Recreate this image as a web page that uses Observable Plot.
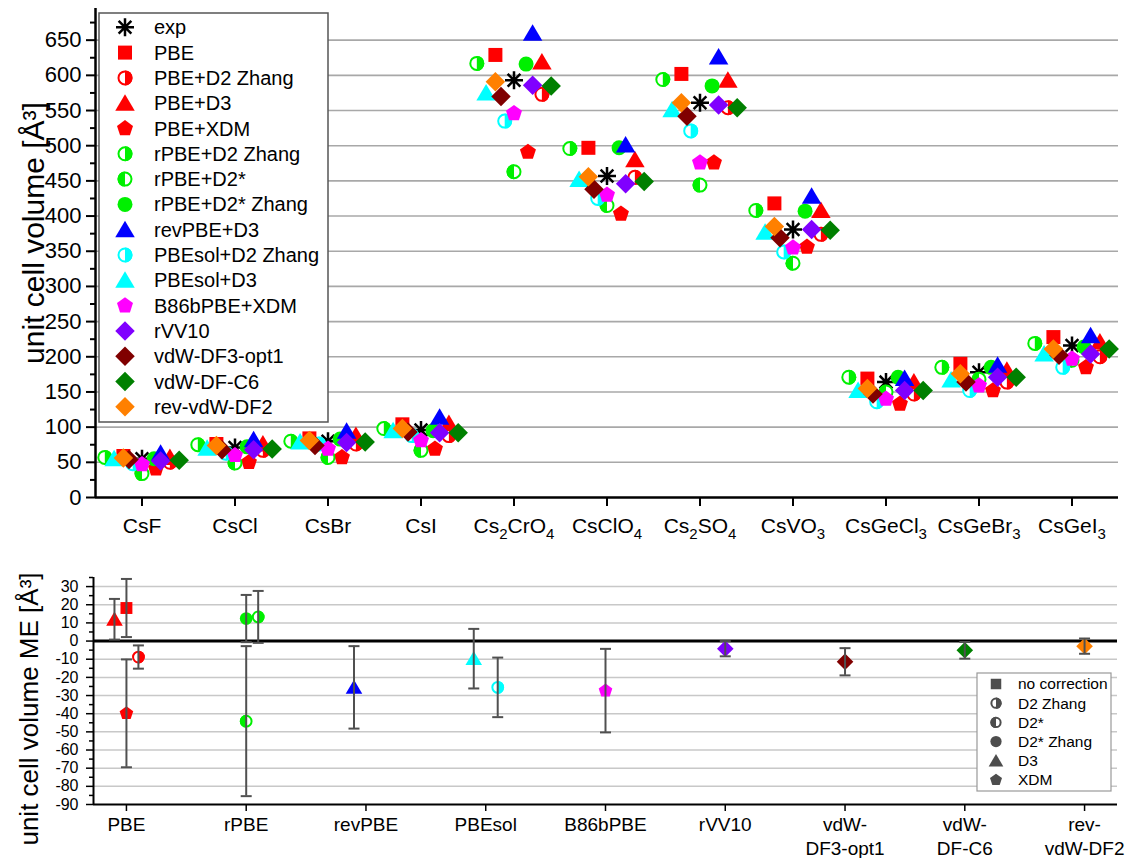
<!DOCTYPE html>
<html>
<head>
<meta charset="utf-8">
<script src="https://cdn.jsdelivr.net/npm/d3@7"></script>
<script src="https://cdn.jsdelivr.net/npm/@observablehq/plot@0.6"></script>
<style>
  body { margin: 0; background: #fff; }
  #chart { position: relative; width: 1127px; height: 858px; font-family: "Liberation Sans", Arial, sans-serif; }
  #chart svg { display: block; overflow: visible; }
</style>
</head>
<body>
<div id="chart"></div>
<script>
// ---------- Unit cell volumes (Å³) per compound ----------
const compounds = ["CsF", "CsCl", "CsBr", "CsI", "Cs2CrO4", "CsClO4", "Cs2SO4", "CsVO3", "CsGeCl3", "CsGeBr3", "CsGeI3"];

const volExp          = [55, 71, 80, 96, 593, 457, 561, 381, 164, 178, 216];
const volPBE          = [59, 76, 84, 104, 629, 497, 602, 418, 169, 190, 228];
const volPBE_D2Zhang  = [50, 67, 76, 88, 573, 455, 554, 374, 147, 164, 200];
const volPBE_D3       = [57, 76, 88, 105, 619, 480, 593, 408, 164, 181, 221];
const volPBE_XDM      = [41, 50, 57, 69, 491, 403, 476, 356, 133, 152, 185];
const volRPBE_D2Zhang = [57, 75, 80, 98, 617, 496, 594, 408, 171, 185, 219];
const volRPBE_D2s     = [34, 49, 57, 67, 463, 415, 444, 333, 150, 168, 195];
const volRPBE_D2sZhang= [55, 72, 83, 95, 616, 497, 585, 407, 171, 185, 214];
const volRevPBE_D3    = [63, 82, 94, 114, 660, 501, 626, 428, 169, 188, 230];
const volPBEsol_D2Zhang = [48, 63, 76, 88, 535, 425, 521, 349, 136, 152, 185];
const volPBEsol_D3    = [55, 70, 79, 95, 575, 452, 551, 377, 152, 167, 204];
const volB86b_XDM     = [47, 60, 69, 81, 546, 430, 476, 355, 140, 159, 197];
const volRVV10        = [52, 68, 78, 92, 586, 446, 558, 381, 152, 171, 204];
const volDF3opt1      = [54, 68, 74, 93, 570, 438, 542, 369, 147, 164, 202];
const volDFC6         = [53, 69, 79, 92, 585, 449, 554, 380, 152, 171, 211];
const volRevDF2       = [56, 74, 81, 98, 591, 456, 561, 385, 155, 176, 211];

const seriesNames = ["exp", "PBE", "PBE+D2 Zhang", "PBE+D3", "PBE+XDM", "rPBE+D2 Zhang", "rPBE+D2*",
  "rPBE+D2* Zhang", "revPBE+D3", "PBEsol+D2 Zhang", "PBEsol+D3", "B86bPBE+XDM", "rVV10",
  "vdW-DF3-opt1", "vdW-DF-C6", "rev-vdW-DF2"];
const seriesValues = [volExp, volPBE, volPBE_D2Zhang, volPBE_D3, volPBE_XDM, volRPBE_D2Zhang, volRPBE_D2s,
  volRPBE_D2sZhang, volRevPBE_D3, volPBEsol_D2Zhang, volPBEsol_D3, volB86b_XDM, volRVV10,
  volDF3opt1, volDFC6, volRevDF2];

// ---------- Mean error of the unit cell volume per method ----------
const meGroupLabels = ["PBE", "rPBE", "revPBE", "PBEsol", "B86bPBE", "rVV10", "vdW-\nDF3-opt1", "vdW-\nDF-C6", "rev-\nvdW-DF2"];
const meBase       = ["PBE", "PBE", "PBE", "PBE", "rPBE", "rPBE", "rPBE", "revPBE", "PBEsol", "PBEsol", "B86bPBE", "rVV10", "vdW-DF3-opt1", "vdW-DF-C6", "rev-vdW-DF2"];
const meCorrection = ["none", "D3", "D2 Zhang", "XDM", "D2* Zhang", "D2 Zhang", "D2*", "D3", "D3", "D2 Zhang", "XDM", "nonlocal", "nonlocal", "nonlocal", "nonlocal"];
const meValue      = [18.2, 12.0, -8.8, -39.8, 12.4, 13.3, -44.1, -25.5, -9.7, -25.5, -27.3, -4.2, -11.4, -5.1, -2.8];
const meSpread     = [16.0, 11.2, 6.4, 29.7, 13.0, 14.3, 41.3, 22.7, 16.4, 16.4, 23.0, 4.2, 7.5, 4.6, 4.2];

const correctionNames = ["no correction", "D2 Zhang", "D2*", "D2* Zhang", "D3", "XDM"];

// ---------- Marker shapes ----------
const TAU = Math.PI * 2;
const rOf = s => Math.sqrt(s / Math.PI);
const sym = {
  square:   {draw(c, s) { const r = rOf(s); c.rect(-r, -r, 2 * r, 2 * r); }},
  circle:   {draw(c, s) { const r = rOf(s); c.moveTo(r, 0); c.arc(0, 0, r, 0, TAU); }},
  triangle: {draw(c, s) { const r = rOf(s); c.moveTo(0, -1.2 * r); c.lineTo(1.3 * r, r); c.lineTo(-1.3 * r, r); c.closePath(); }},
  pentagon: {draw(c, s) { const r = rOf(s) * 1.12;
    for (let k = 0; k < 5; k++) { const a = -Math.PI / 2 + k * TAU / 5; const px = r * Math.cos(a), py = r * Math.sin(a); k ? c.lineTo(px, py) : c.moveTo(px, py); }
    c.closePath(); }},
  diamond:  {draw(c, s) { const r = rOf(s) * 1.3; c.moveTo(0, -r); c.lineTo(r, 0); c.lineTo(0, r); c.lineTo(-r, 0); c.closePath(); }},
  star:     {draw(c, s) { const r = rOf(s);
    for (let k = 0; k < 4; k++) { const a = k * Math.PI / 4; c.moveTo(r * Math.cos(a), r * Math.sin(a)); c.lineTo(-r * Math.cos(a), -r * Math.sin(a)); } }},
  halfLeft: {draw(c, s) { const r = rOf(s); c.moveTo(0, -r); c.arc(0, 0, r, -Math.PI / 2, Math.PI / 2, true); c.closePath(); }},
  halfRight:{draw(c, s) { const r = rOf(s); c.moveTo(0, -r); c.arc(0, 0, r, -Math.PI / 2, Math.PI / 2, false); c.closePath(); }},
  cap:      {draw(c, s) { const r = rOf(s); c.moveTo(-r, 0); c.lineTo(r, 0); }}
};

const RED = "#ff0000", GREEN = "#00f000", BLUE = "#0000ff", CYAN = "#00ffff", MAGENTA = "#ff00ff",
      PURPLE = "#8000ff", DARKRED = "#800000", DARKGREEN = "#008000", ORANGE = "#ff8000";

const seriesStyle = {
  "exp":             {color: "#000", kind: "star", off: 0},
  "PBE":             {color: RED, kind: "square", off: -0.2},
  "PBE+D2 Zhang":    {color: RED, kind: "halfRight", off: 0.3},
  "PBE+D3":          {color: RED, kind: "triangle", off: 0.3},
  "PBE+XDM":         {color: RED, kind: "pentagon", off: 0.15},
  "rPBE+D2 Zhang":   {color: GREEN, kind: "halfRight", off: -0.4},
  "rPBE+D2*":        {color: GREEN, kind: "halfLeft", off: 0},
  "rPBE+D2* Zhang":  {color: GREEN, kind: "circle", off: 0.13},
  "revPBE+D3":       {color: BLUE, kind: "triangle", off: 0.2},
  "PBEsol+D2 Zhang": {color: CYAN, kind: "halfRight", off: -0.1},
  "PBEsol+D3":       {color: CYAN, kind: "triangle", off: -0.3},
  "B86bPBE+XDM":     {color: MAGENTA, kind: "pentagon", off: 0},
  "rVV10":           {color: PURPLE, kind: "diamond", off: 0.2},
  "vdW-DF3-opt1":    {color: DARKRED, kind: "diamond", off: -0.14},
  "vdW-DF-C6":       {color: DARKGREEN, kind: "diamond", off: 0.4},
  "rev-vdW-DF2":     {color: ORANGE, kind: "diamond", off: -0.2}
};
const baseColor = {"PBE": RED, "rPBE": GREEN, "revPBE": BLUE, "PBEsol": CYAN, "B86bPBE": MAGENTA,
  "rVV10": PURPLE, "vdW-DF3-opt1": DARKRED, "vdW-DF-C6": DARKGREEN, "rev-vdW-DF2": ORANGE};
const correctionKind = {"none": "square", "no correction": "square", "D2 Zhang": "halfRight", "D2*": "halfLeft",
  "D2* Zhang": "circle", "D3": "triangle", "XDM": "pentagon", "nonlocal": "diamond"};
const correctionOffset = {"D3": -0.1, "D2 Zhang": 0.1};
const markerSize = {square: 7, circle: 7.5, halfLeft: 7.5, halfRight: 7.5, triangle: 7.5, pentagon: 7.5, diamond: 7.5, star: 9};

function markerMarks(data, {x, y, kind, color, scale = 1}) {
  const r = markerSize[kind] * scale;
  if (kind === "star") return [Plot.dot(data, {x, y, symbol: sym.star, r, stroke: color, strokeWidth: 2.5, fill: "none"})];
  if (kind === "halfLeft" || kind === "halfRight") return [
    Plot.dot(data, {x, y, symbol: sym.circle, r: r - 1, fill: "white", stroke: color, strokeWidth: 2}),
    Plot.dot(data, {x, y, symbol: sym[kind], r, fill: color, stroke: "none"})
  ];
  return [Plot.dot(data, {x, y, symbol: sym[kind], r, fill: color, stroke: "none"})];
}

function iconInto(g, cx, cy, kind, color, scale = 1) {
  const r = markerSize[kind] * scale;
  const at = `translate(${cx},${cy})`;
  const path = (k, rr) => d3.symbol().type(sym[k]).size(Math.PI * rr * rr)();
  if (kind === "star") {
    g.append("path").attr("transform", at).attr("d", path("star", r)).attr("fill", "none").attr("stroke", color).attr("stroke-width", 2.5);
  } else if (kind === "halfLeft" || kind === "halfRight") {
    g.append("path").attr("transform", at).attr("d", path("circle", r - 1)).attr("fill", "white").attr("stroke", color).attr("stroke-width", 2);
    g.append("path").attr("transform", at).attr("d", path(kind, r)).attr("fill", color);
  } else {
    g.append("path").attr("transform", at).attr("d", path(kind, r)).attr("fill", color);
  }
}

// Chemical formulas: digits become subscripts
function subscriptify(textEl, s, fontPx) {
  const ns = "http://www.w3.org/2000/svg";
  textEl.textContent = "";
  const shift = Math.round(fontPx * 0.28);
  let lowered = false;
  for (const part of s.match(/\d+|\D+/g)) {
    const t = document.createElementNS(ns, "tspan");
    if (/\d/.test(part)) {
      t.setAttribute("font-size", Math.round(fontPx * 0.72));
      t.setAttribute("dy", shift); lowered = true;
    } else if (lowered) {
      t.setAttribute("dy", -shift); lowered = false;
    }
    t.textContent = part;
    textEl.appendChild(t);
  }
}

const FONT = '"Liberation Sans", Arial, sans-serif';
const plainNumber = d => String(d);

// ---------- Upper panel: unit cell volumes ----------
const topMarks = [];
seriesNames.forEach((name, k) => {
  const st = seriesStyle[name];
  const data = seriesValues[k].map((v, i) => ({i, v}));
  topMarks.push(...markerMarks(data, {x: d => d.i + st.off, y: "v", kind: st.kind, color: st.color}));
});

const topPlot = Plot.plot({
  width: 1127, height: 562,
  marginLeft: 95, marginRight: 9, marginTop: 8, marginBottom: 65,
  style: {fontFamily: FONT, fontSize: "21px", color: "#000", background: "white", overflow: "visible"},
  x: {type: "linear", domain: [-0.5, 10.5], label: null},
  y: {domain: [0, 695], label: null},
  marks: [
    Plot.gridY(d3.range(50, 651, 50), {stroke: "#a8a8a8", strokeOpacity: 1, strokeWidth: 1.6}),
    Plot.axisY(d3.range(25, 700, 50), {tickSize: 5, tickFormat: () => "", strokeWidth: 2, label: null}),
    Plot.axisY(d3.range(0, 651, 50), {tickSize: 9, tickPadding: 5, strokeWidth: 2, fontSize: 22, tickFormat: plainNumber, label: null}),
    Plot.axisX(compounds.map((c, i) => i), {tickSize: 9, tickPadding: 12, strokeWidth: 2, fontSize: 21,
      tickFormat: i => compounds[i], label: null}),
    Plot.ruleX([-0.5], {stroke: "#000", strokeWidth: 2.5}),
    Plot.ruleY([0], {stroke: "#000", strokeWidth: 2.5}),
    ...topMarks,
    Plot.text(["unit cell volume [Å³]"], {frameAnchor: "left", textAnchor: "middle", rotate: -90, dx: -61, dy: -20, fontSize: 30})
  ]
});

// ---------- Lower panel: mean errors with spread ----------
const meData = meValue.map((v, k) => ({
  g: meGroupLabels.map(s => s.replace("\n", "")).indexOf(meBase[k]),
  corr: meCorrection[k], base: meBase[k], v, lo: v - meSpread[k], hi: v + meSpread[k]
}));
const meX = d => d.g + (correctionOffset[d.corr] || 0);

const bottomMarks = [];
meData.forEach(d => {
  bottomMarks.push(...markerMarks([d], {x: meX, y: "v", kind: correctionKind[d.corr], color: baseColor[d.base], scale: 0.85}));
});

const bottomPlot = Plot.plot({
  width: 1127, height: 296,
  marginLeft: 93, marginRight: 10, marginTop: 15, marginBottom: 54,
  style: {fontFamily: FONT, fontSize: "19px", color: "#000", background: "white", overflow: "visible"},
  x: {type: "linear", domain: [-0.275, 8.275], label: null},
  y: {domain: [-90, 35], label: null},
  marks: [
    Plot.gridY(d3.range(-80, 31, 10).filter(v => v !== 0), {stroke: "#c8c8c8", strokeOpacity: 1, strokeWidth: 1.5}),
    Plot.axisY(d3.range(-85, 36, 10), {tickSize: 4, tickFormat: () => "", strokeWidth: 1.5, label: null}),
    Plot.axisY(d3.range(-90, 31, 10), {tickSize: 7, tickPadding: 8, strokeWidth: 1.5, fontSize: 16, tickFormat: plainNumber, label: null}),
    Plot.axisX(d3.range(meGroupLabels.length), {tickSize: 7, tickPadding: 2, strokeWidth: 1.5, fontSize: 19,
      lineHeight: 1.28, tickFormat: i => meGroupLabels[i], label: null}),
    Plot.ruleX([-0.275], {stroke: "#000", strokeWidth: 2}),
    Plot.ruleY([-90], {stroke: "#000", strokeWidth: 2}),
    Plot.ruleY([0], {stroke: "#000", strokeWidth: 3}),
    ...bottomMarks,
    Plot.ruleX(meData, {x: meX, y1: "lo", y2: "hi", stroke: "#505050", strokeWidth: 2}),
    Plot.dot(meData, {x: meX, y: "lo", symbol: sym.cap, r: 5.5, stroke: "#505050", strokeWidth: 2}),
    Plot.dot(meData, {x: meX, y: "hi", symbol: sym.cap, r: 5.5, stroke: "#505050", strokeWidth: 2}),
    Plot.text(["unit cell volume ME [Å³]"], {frameAnchor: "left", textAnchor: "middle", rotate: -90, dx: -64, dy: 18, fontSize: 26})
  ]
});

const chart = document.getElementById("chart");
chart.appendChild(topPlot);
chart.appendChild(bottomPlot);

// minor ticks carry no labels: drop their empty text nodes
for (const svg of [topPlot, bottomPlot]) {
  d3.select(svg).selectAll("text").filter(function () { return this.textContent === ""; }).remove();
}

// subscripts in the compound tick labels
d3.select(topPlot).selectAll('g[aria-label="x-axis tick label"] text').each(function () {
  const s = this.textContent;
  if (/\d/.test(s)) subscriptify(this, s, 21);
});

// ---------- Legends ----------
{
  const g = d3.select(topPlot).append("g").attr("font-family", FONT).attr("font-size", 20).attr("text-anchor", "start");
  g.append("rect").attr("x", 99).attr("y", 13).attr("width", 229).attr("height", 409)
    .attr("fill", "white").attr("stroke", "#555").attr("stroke-width", 1.5);
  seriesNames.forEach((name, k) => {
    const y = 27.3 + k * 25.3, st = seriesStyle[name];
    iconInto(g, 125, y, st.kind, st.color);
    g.append("text").attr("x", 154).attr("y", y).attr("dy", "0.35em").attr("fill", "#000").text(name);
  });
}
{
  const g = d3.select(bottomPlot).append("g").attr("font-family", FONT).attr("font-size", 15.5).attr("text-anchor", "start");
  g.append("rect").attr("x", 977).attr("y", 111).attr("width", 134).attr("height", 118)
    .attr("fill", "white").attr("stroke", "#999").attr("stroke-width", 1.2);
  correctionNames.forEach((name, k) => {
    const y = 122 + k * 19.2;
    iconInto(g, 996, y, correctionKind[name], "#4d4d4d", 0.75);
    g.append("text").attr("x", 1018).attr("y", y).attr("dy", "0.35em").attr("fill", "#000").text(name);
  });
}
</script>
</body>
</html>
